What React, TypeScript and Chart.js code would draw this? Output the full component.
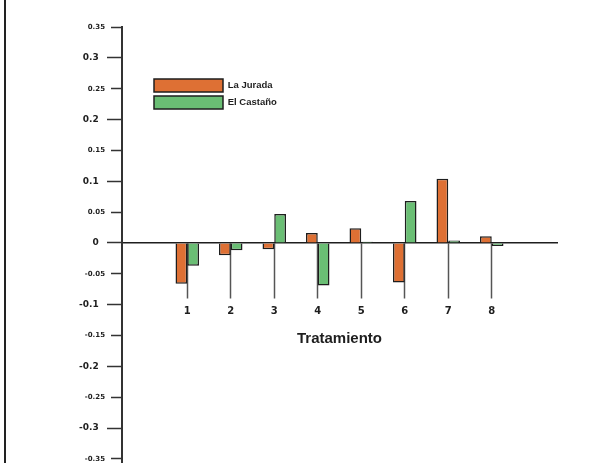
import { useEffect, useRef } from 'react';
import { Chart, registerables } from 'chart.js';

Chart.register(...registerables);

const categories = ['1', '2', '3', '4', '5', '6', '7', '8'];
const seriesNames = ['La Jurada', 'El Castaño'];
const laJurada = [-0.066, -0.02, -0.01, 0.016, 0.024, -0.064, 0.104, 0.011];
const elCastano = [-0.037, -0.012, 0.047, -0.069, 0.002, 0.068, 0.004, -0.005];
const yTickValues = [0.35, 0.3, 0.25, 0.2, 0.15, 0.1, 0.05, 0, -0.05, -0.1, -0.15, -0.2, -0.25, -0.3, -0.35];
const yTickLabels = ['0.35', '0.3', '0.25', '0.2', '0.15', '0.1', '0.05', '0', '-0.05', '-0.1', '-0.15', '-0.2', '-0.25', '-0.3', '-0.35'];
const xTitle = 'Tratamiento';

const ORANGE = '#DE7034';
const GREEN = '#6ABE74';
const INK = '#1e1e1e';

const isMajor = (v: number) => Math.abs(Math.round(v * 100)) % 10 === 0;

const legendShift = {
  id: 'legendShift',
  afterLayout(chart: any) {
    const lg = chart.legend;
    if (!lg) return;
    const w = lg.width;
    const h = lg.height;
    lg.left = chart.chartArea.left + 28;
    lg.top = chart.chartArea.top + 48;
    lg.right = lg.left + w + 20;
    lg.bottom = lg.top + h;
  },
};

export default function App() {
  const ref = useRef<HTMLCanvasElement>(null);

  useEffect(() => {
    const slotLabels = ['', ...categories, ''];
    const pad = (arr: number[]) => [null, ...arr, null];
    const lastIdx = slotLabels.length - 1;

    const chart = new Chart(ref.current as HTMLCanvasElement, {
      type: 'bar',
      data: {
        labels: slotLabels,
        datasets: [
          {
            label: seriesNames[0],
            data: pad(laJurada),
            backgroundColor: ORANGE,
            borderColor: INK,
            borderWidth: 1.5,
            categoryPercentage: 0.54,
            barPercentage: 1,
          },
          {
            label: seriesNames[1],
            data: pad(elCastano),
            backgroundColor: GREEN,
            borderColor: INK,
            borderWidth: 1.5,
            categoryPercentage: 0.54,
            barPercentage: 1,
          },
        ],
      },
      options: {
        animation: false,
        responsive: false,
        devicePixelRatio: 1,
        layout: { padding: { left: 0, right: 41, top: 27, bottom: 8 } },
        plugins: {
          tooltip: { enabled: false },
          legend: {
            position: 'chartArea',
            align: 'start',
            labels: {
              boxWidth: 69,
              boxHeight: 13,
              padding: 4,
              color: INK,
              font: { family: 'Liberation Sans', size: 9.5, weight: 'bold' },
            },
          },
        },
        scales: {
          x: {
            type: 'category',
            position: { y: 0 },
            offset: true,
            afterFit: (s: any) => {
              s.height = 105;
            },
            grid: {
              offset: false,
              drawOnChartArea: false,
              drawTicks: true,
              tickLength: 55,
              tickWidth: 1.5,
              tickColor: (ctx: any) => (ctx.index === 0 || ctx.index === lastIdx ? 'rgba(0,0,0,0)' : '#555'),
            },
            border: { display: true, color: INK, width: 1.5 },
            ticks: {
              padding: 7,
              autoSkip: false,
              maxRotation: 0,
              color: INK,
              font: { family: 'DejaVu Sans', size: 10, weight: 'bold' },
            },
            title: {
              display: true,
              text: xTitle,
              color: INK,
              padding: 0,
              font: { family: 'Liberation Sans', size: 15, weight: 'bold' },
            },
          },
          y: {
            type: 'linear',
            position: 'left',
            min: -0.355,
            max: 0.35,
            afterFit: (s: any) => {
              s.width = 122;
            },
            afterBuildTicks: (s: any) => {
              s.ticks = [...yTickValues].reverse().map((v) => ({ value: v }));
            },
            grid: {
              drawOnChartArea: false,
              drawTicks: true,
              tickLength: 15,
              tickWidth: 1.5,
              tickColor: '#333',
              tickBorderDash: (ctx: any) => (ctx.tick && !isMajor(ctx.tick.value) ? [0, 4, 40] : []),
            },
            border: { display: true, color: '#333', width: 2 },
            ticks: {
              padding: 2,
              color: INK,
              callback: (value: any) => {
                const i = yTickValues.findIndex((v) => Math.abs(v - Number(value)) < 1e-9);
                const t = i >= 0 ? yTickLabels[i] : String(value);
                return isMajor(Number(value)) ? t + '\u00a0\u00a0' : t;
              },
              font: (ctx: any) => ({
                family: 'DejaVu Sans',
                size: ctx.tick && !isMajor(ctx.tick.value) ? 7 : 9,
                weight: 'bold',
              }),
            },
          },
        },
      },
      plugins: [legendShift],
    } as any);

    return () => chart.destroy();
  }, []);

  return (
    <div
      style={{
        position: 'fixed',
        left: 0,
        top: 0,
        width: 598,
        height: 463,
        overflow: 'hidden',
        background: '#fff',
      }}
    >
      <canvas ref={ref} width={598} height={470} style={{ display: 'block', width: 598, height: 470 }} />
      <div style={{ position: 'absolute', left: 4, top: 0, width: 2, height: 463, background: '#222' }} />
    </div>
  );
}
